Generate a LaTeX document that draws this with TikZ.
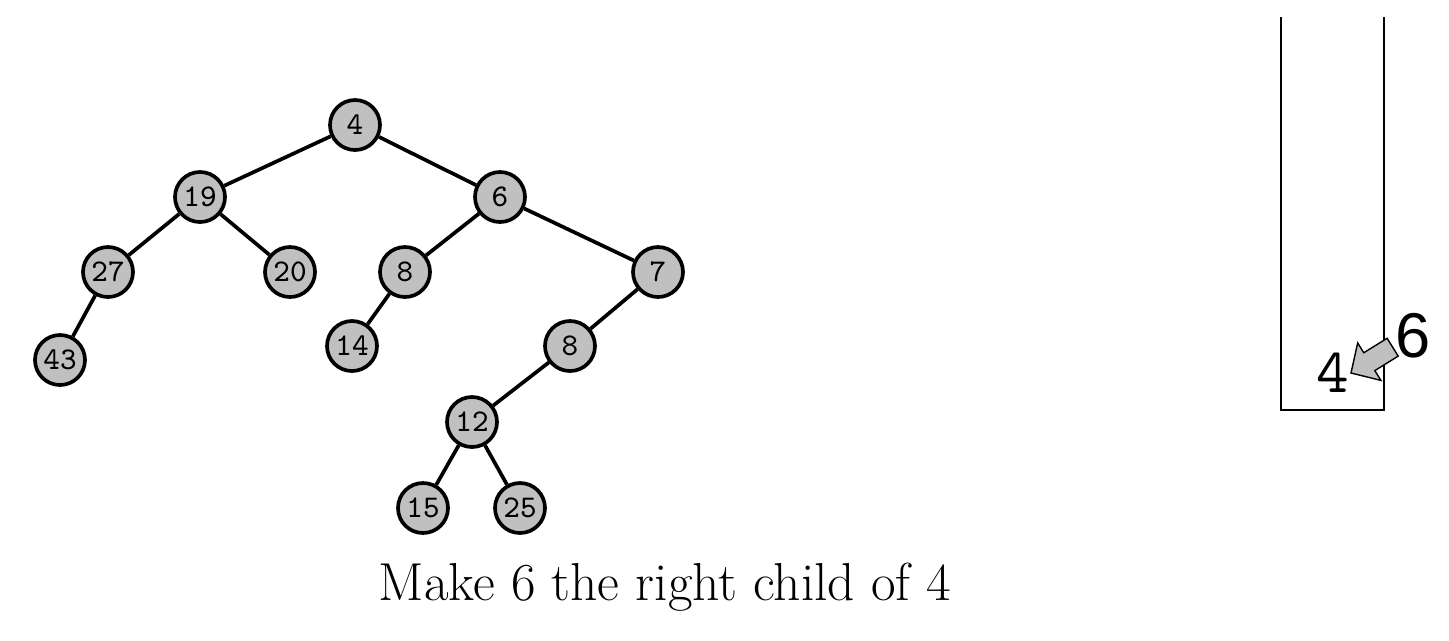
\documentclass[tikz,border=0pt]{standalone}
\usepackage{fontspec}
\setmainfont{Latin Modern Roman}
\newfontfamily\keyfont{Latin Modern Mono}
\newfontfamily\labfont{Liberation Sans}
\definecolor{keygray}{RGB}{192,192,192}
\begin{document}
\begin{tikzpicture}[
  key/.style={draw, circle, fill=keygray, line width=1.05pt, inner sep=0pt,
    minimum size=0.5cm, font=\keyfont\fontsize{9}{10}\selectfont},
  edge/.style={draw, line width=1.05pt}]
\useasboundingbox (0,0) rectangle (14.49,-6.40);

\node[key] (4) at (3.55,-1.25) {4};
\node[key] (19) at (2.00,-1.97) {19};
\node[key] (6) at (5.00,-1.97) {6};
\node[key] (27) at (1.08,-2.72) {27};
\node[key] (20) at (2.90,-2.72) {20};
\node[key] (8a) at (4.05,-2.72) {8};
\node[key] (7) at (6.58,-2.72) {7};
\node[key] (43) at (0.60,-3.60) {43};
\node[key] (14) at (3.52,-3.46) {14};
\node[key] (8b) at (5.70,-3.46) {8};
\node[key] (12) at (4.72,-4.22) {12};
\node[key] (15) at (4.23,-5.08) {15};
\node[key] (25) at (5.20,-5.08) {25};

\path[edge] (4) -- (19);
\path[edge] (4) -- (6);
\path[edge] (19) -- (27);
\path[edge] (19) -- (20);
\path[edge] (27) -- (43);
\path[edge] (6) -- (8a);
\path[edge] (6) -- (7);
\path[edge] (8a) -- (14);
\path[edge] (7) -- (8b);
\path[edge] (8b) -- (12);
\path[edge] (12) -- (15);
\path[edge] (12) -- (25);

\node[anchor=base, font=\fontsize{15.2}{17}\selectfont] (caption) at (6.65,-6.00)
  {Make 6 the right child of 4};

% stack
\draw[line width=0.6pt] (12.81,-0.17) -- (12.81,-4.10) -- (13.84,-4.10) -- (13.84,-0.17);
\node[anchor=base, font=\keyfont\fontsize{18}{20}\selectfont] (top) at (13.33,-3.92) {4};
\node[anchor=base, font=\labfont\fontsize{18}{20}\selectfont] (new) at (14.13,-3.57) {6};
\coordinate (tip) at (13.51,-3.73);
\draw[fill=keygray, line width=0.4pt, shift={(tip)}, rotate=31.8]
  (0,0) -- (0.215,0.22) -- (0.215,0.105) -- (0.49,0.105)
  -- (0.49,-0.105) -- (0.215,-0.105) -- (0.215,-0.22) -- cycle;
\end{tikzpicture}
\end{document}
